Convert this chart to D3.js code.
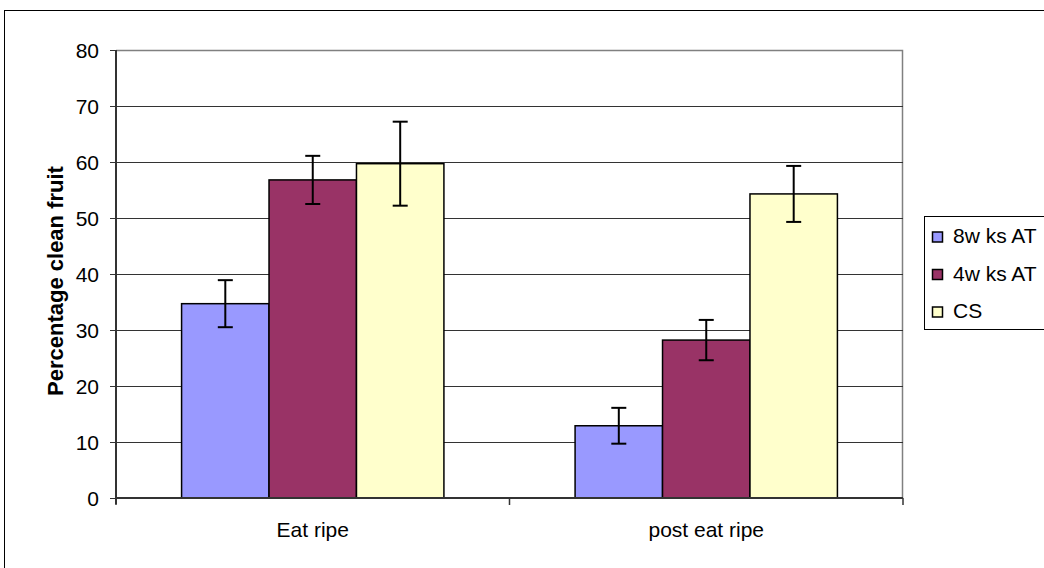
<!DOCTYPE html>
<html><head><meta charset="utf-8">
<script src="https://cdn.jsdelivr.net/npm/d3@7"></script>
<style>body{margin:0;background:#fff;}svg{display:block;font-family:"Liberation Sans",Arial,sans-serif;}</style>
</head><body>
<svg id="c" width="1044" height="568"></svg>
<script>
const categories = ["Eat ripe", "post eat ripe"];
const seriesNames = ["8w ks AT", "4w ks AT", "CS"];
const seriesColors = ["#9999FF", "#993366", "#FFFFCC"];
const vals8wks = [34.7, 12.9];
const vals4wks = [56.8, 28.2];
const valsCS = [59.7, 54.3];
const err8wks = [4.2, 3.2];
const err4wks = [4.3, 3.6];
const errCS = [7.5, 5.0];
const yTicks = [0, 10, 20, 30, 40, 50, 60, 70, 80];
const yTitle = "Percentage clean fruit";

const values = [vals8wks, vals4wks, valsCS];
const errors = [err8wks, err4wks, errCS];

const svg = d3.select("#c");
const L = 116, R = 903, T = 50, B = 498;
const FS = 21;

// outer border
svg.append("rect").attr("x", 4.5).attr("y", 10.5).attr("width", 1100).attr("height", 700)
  .attr("fill", "none").attr("stroke", "#000").attr("stroke-width", 1);

const y = d3.scaleLinear().domain([0, 80]).range([B, T]);
const x0 = d3.scaleBand().domain(categories).range([L, R]).padding(0);
const bw = x0.bandwidth();
const outer = bw * (0.5 * 1.5 / (3 + 1.5));
const x1 = d3.scaleBand().domain(d3.range(3)).range([outer, bw - outer]).padding(0);

// plot area border (top/right gray)
svg.append("path").attr("d", `M${L},${T+0.5}H${R-0.5}V${B}`).attr("fill","none").attr("stroke","#808080").attr("stroke-width",1.5);

// gridlines
svg.append("g").selectAll("line").data(yTicks.filter(d => d > 0 && d < 80)).join("line")
  .attr("x1", L).attr("x2", R).attr("y1", d => Math.round(y(d)) + 0.5).attr("y2", d => Math.round(y(d)) + 0.5)
  .attr("stroke", "#333").attr("stroke-width", 1);

// bars
const g = svg.append("g");
for (let s = 0; s < 3; s++) {
  categories.forEach((c, i) => {
    const bx = x0(c) + x1(s);
    g.append("rect").attr("x", bx).attr("y", y(values[s][i]))
      .attr("width", x1.bandwidth()).attr("height", B - y(values[s][i]))
      .attr("fill", seriesColors[s]).attr("stroke", "#000").attr("stroke-width", 1.5);
  });
}
// error bars
for (let s = 0; s < 3; s++) {
  categories.forEach((c, i) => {
    const cx = x0(c) + x1(s) + x1.bandwidth() / 2;
    const top = y(values[s][i] + errors[s][i]), bot = y(values[s][i] - errors[s][i]);
    const eg = g.append("g").attr("stroke", "#000").attr("stroke-width", 2);
    eg.append("line").attr("x1", cx).attr("x2", cx).attr("y1", top).attr("y2", bot);
    eg.append("line").attr("x1", cx - 7.5).attr("x2", cx + 7.5).attr("y1", top).attr("y2", top);
    eg.append("line").attr("x1", cx - 7.5).attr("x2", cx + 7.5).attr("y1", bot).attr("y2", bot);
  });
}

// y axis
const yAxis = d3.axisLeft(y).tickValues(yTicks).tickSize(6).tickPadding(11);
const ya = svg.append("g").attr("transform", `translate(${L},0)`).call(yAxis);
ya.attr("font-size", FS).attr("font-family", "Liberation Sans, Arial, sans-serif");
ya.select(".domain").attr("stroke", "#333").attr("stroke-width", 2).attr("d", `M0,${T}V${B+6}`);
ya.selectAll(".tick line").attr("stroke", "#333");
ya.selectAll("text").attr("fill", "#000").attr("dy", "0.34em");

// x axis
const xa = svg.append("g").attr("transform", `translate(0,${B})`);
xa.append("line").attr("x1", L).attr("x2", R).attr("y1", 0).attr("y2", 0).attr("stroke", "#333").attr("stroke-width", 2);
[L, L + bw, R].forEach(t => xa.append("line").attr("x1", t).attr("x2", t).attr("y1", 0).attr("y2", 7).attr("stroke", "#333").attr("stroke-width", 1.5));
xa.selectAll("text.cat").data(categories).join("text").attr("class", "cat")
  .attr("x", d => x0(d) + bw / 2).attr("y", 39).attr("text-anchor", "middle")
  .attr("font-size", FS).text(d => d);

// y title
svg.append("text").attr("transform", "translate(63,281) rotate(-90)").attr("text-anchor", "middle")
  .attr("font-size", 22).attr("font-weight", "bold").text(yTitle);

// legend
const lg = svg.append("g");
lg.append("rect").attr("x", 924.5).attr("y", 216.5).attr("width", 140).attr("height", 113)
  .attr("fill", "#fff").attr("stroke", "#000").attr("stroke-width", 1);
seriesNames.forEach((n, i) => {
  const base = 243 + i * 37.5;
  lg.append("rect").attr("x", 932.5).attr("y", base - 11).attr("width", 10).attr("height", 10)
    .attr("fill", seriesColors[i]).attr("stroke", "#000").attr("stroke-width", 1.5);
  lg.append("text").attr("x", 953).attr("y", base).attr("font-size", FS).text(n);
});
</script>
</body></html>
